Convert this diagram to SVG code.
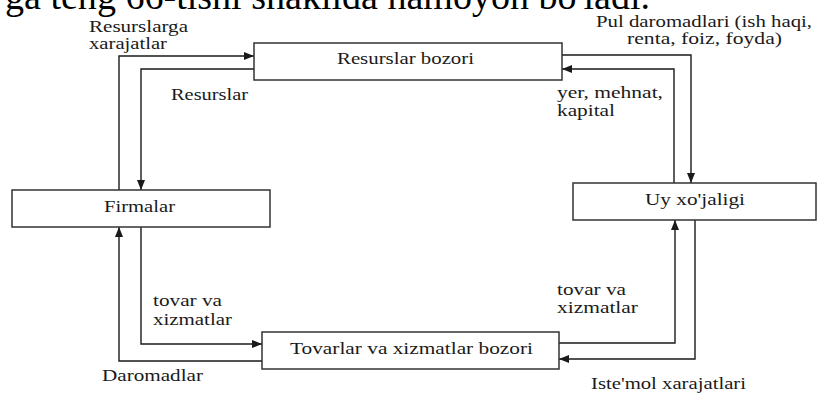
<svg xmlns="http://www.w3.org/2000/svg" width="818" height="393" viewBox="0 0 818 393">
<style>
  .box { fill: #ffffff; stroke: #333333; stroke-width: 1.5; }
  .lbl { font-family: "Liberation Serif", "Times New Roman", serif; font-size: 16px; fill: #1a1a1a; }
  .title { font-family: "Liberation Serif", "Times New Roman", serif; font-size: 38px; fill: #000000; }
  .conn { fill: none; stroke: #1a1a1a; stroke-width: 1.4; }
</style>
<defs>
  <marker id="arr" markerUnits="userSpaceOnUse" markerWidth="10" markerHeight="8" refX="10" refY="4" orient="auto">
    <path d="M0,0 L10,4 L0,8 z" fill="#1a1a1a"/>
  </marker>
</defs>
<rect width="818" height="393" fill="#ffffff"/>
<text class="title" x="5" y="9" textLength="645" lengthAdjust="spacingAndGlyphs">ga teng 66-tishi shaklida namoyon bo'ladi.</text>

<g id="connectors">
  <polyline class="conn" points="119,190 119,56 254,56" marker-end="url(#arr)"/>
  <polyline class="conn" points="254,69 141,69 141,190" marker-end="url(#arr)"/>
  <polyline class="conn" points="562,55 691,55 691,183" marker-end="url(#arr)"/>
  <polyline class="conn" points="674,183 674,69 562,69" marker-end="url(#arr)"/>
  <polyline class="conn" points="141,227 141,344 262,344" marker-end="url(#arr)"/>
  <polyline class="conn" points="262,361 119,361 119,227" marker-end="url(#arr)"/>
  <polyline class="conn" points="559,343 675,343 675,220" marker-end="url(#arr)"/>
  <polyline class="conn" points="695,220 695,359 559,359" marker-end="url(#arr)"/>
  <text class="lbl" x="89" y="32" textLength="99" lengthAdjust="spacingAndGlyphs">Resurslarga</text>
  <text class="lbl" x="89" y="49" textLength="78" lengthAdjust="spacingAndGlyphs">xarajatlar</text>
  <text class="lbl" x="171" y="100" textLength="77" lengthAdjust="spacingAndGlyphs">Resurslar</text>
  <text class="lbl" x="596" y="27" textLength="216" lengthAdjust="spacingAndGlyphs">Pul daromadlari (ish haqi,</text>
  <text class="lbl" x="627" y="44" textLength="155" lengthAdjust="spacingAndGlyphs">renta, foiz, foyda)</text>
  <text class="lbl" x="557" y="98" textLength="106" lengthAdjust="spacingAndGlyphs">yer, mehnat,</text>
  <text class="lbl" x="557" y="116" textLength="58" lengthAdjust="spacingAndGlyphs">kapital</text>
  <text class="lbl" x="153" y="306" textLength="69" lengthAdjust="spacingAndGlyphs">tovar va</text>
  <text class="lbl" x="153" y="325" textLength="79" lengthAdjust="spacingAndGlyphs">xizmatlar</text>
  <text class="lbl" x="102" y="381" textLength="101" lengthAdjust="spacingAndGlyphs">Daromadlar</text>
  <text class="lbl" x="557" y="295" textLength="69" lengthAdjust="spacingAndGlyphs">tovar va</text>
  <text class="lbl" x="557" y="313" textLength="81" lengthAdjust="spacingAndGlyphs">xizmatlar</text>
  <text class="lbl" x="591" y="389" textLength="155" lengthAdjust="spacingAndGlyphs">Iste'mol xarajatlari</text>
</g>

<g id="resurslar-bozori">
  <rect class="box" x="254" y="43" width="308" height="37"/>
  <text class="lbl" x="337" y="64" textLength="137" lengthAdjust="spacingAndGlyphs">Resurslar bozori</text>
</g>
<g id="firmalar">
  <rect class="box" x="12" y="190" width="258" height="37"/>
  <text class="lbl" x="104" y="212" textLength="71" lengthAdjust="spacingAndGlyphs">Firmalar</text>
</g>
<g id="uy-xojaligi">
  <rect class="box" x="573" y="183" width="243" height="37"/>
  <text class="lbl" x="645" y="205" textLength="100" lengthAdjust="spacingAndGlyphs">Uy xo'jaligi</text>
</g>
<g id="tovarlar-bozori">
  <rect class="box" x="262" y="332" width="297" height="37"/>
  <text class="lbl" x="290" y="354" textLength="243" lengthAdjust="spacingAndGlyphs">Tovarlar va xizmatlar bozori</text>
</g>
</svg>
